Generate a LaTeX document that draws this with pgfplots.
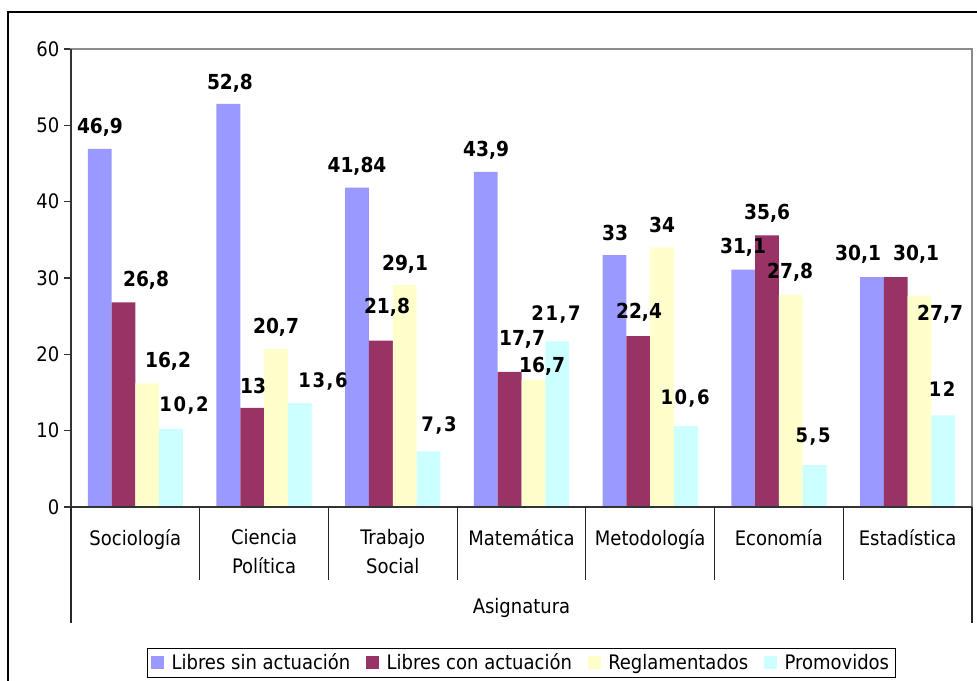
\documentclass[border=0pt]{standalone}
\usepackage{fontspec}
\setmainfont{DejaVu Sans Condensed}
\newfontfamily\spacedfont[LetterSpace=8]{DejaVu Sans Condensed}
\usepackage{pgfplots}
\pgfplotsset{compat=1.18}
\usepackage{pgfplotstable}
\definecolor{cA}{HTML}{9999FF}
\definecolor{cB}{HTML}{993366}
\definecolor{cC}{HTML}{FFFFCC}
\definecolor{cD}{HTML}{CCFFFF}
\newcommand\fs{\fontsize{15}{21.75}\selectfont}

\pgfplotstableread{
idx A B C D
0 46.9 26.8 16.2 10.2
1 52.8 13 20.7 13.6
2 41.84 21.8 29.1 7.3
3 43.9 17.7 16.7 21.7
4 33 22.4 34 10.6
5 31.1 35.6 27.8 5.5
6 30.1 30.1 27.7 12
}\bars

\pgfplotstableread{
x y lab
-0.275 49.78 46,9
0.735 55.55 52,8
1.722 44.67 41,84
2.725 46.77 43,9
3.727 35.90 33
4.721 34.06 31,1
5.615 33.15 30,1
}\labA
\pgfplotstableread{
x y lab
0.083 29.74 26,8
0.914 15.85 13
1.955 26.20 21,8
3.004 22.01 17,7
3.913 25.55 22,4
4.908 38.52 35,6
6.066 33.15 30,1
}\labB
\pgfplotstableread{
x y lab
0.254 19.13 16,2
1.093 23.58 20,7
2.095 31.84 29,1
3.160 18.47 16,7
4.092 36.94 34
5.087 30.79 27,8
6.252 25.28 27,7
}\labC
\pgfplotstableread{
x y lab
0.378 13.36 10,2
1.458 16.38 13,6
2.359 10.74 7,3
3.268 25.28 21,7
4.271 14.15 10,6
5.265 9.17 5,5
6.268 15.46 12
}\labD

\pgfplotsset{
  mybar/.style={ybar, bar width=17.85pt, draw=none,
    legend image code/.code={\fill[##1,draw=none] (0pt,-4.9pt) rectangle (9.75pt,4.9pt);}},
  mylab/.style={draw=none, mark=none, forget plot, nodes near coords,
    point meta=explicit symbolic, nodes near coords align=center,
    every node near coord/.append style={font=\fontsize{15.5}{18}\selectfont\bfseries, anchor=center, inner sep=0pt}},
}

\begin{document}
\begin{tikzpicture}
\path[use as bounding box] (-53.25pt,-130.5pt) rectangle (679.5pt,380.25pt);
\draw[line width=1.1pt] (-47.25pt,-140pt) -- (-47.25pt,371.25pt) -- (690pt,371.25pt);
\begin{axis}[
  scale only axis, width=675.75pt, height=343.5pt,
  xmin=-0.5, xmax=6.5, ymin=0, ymax=60,
  clip=false,
  axis line style={draw=black!45, line width=1.4pt},
  tick pos=left, tick align=outside,
  major tick length=5.25pt,
  ytick={0,10,...,60},
  ytick style={draw=black!80, line width=0.9pt},
  yticklabel style={font=\fs, /pgf/number format/assume math mode=true},
  xtick={0,...,6},
  xtick style={draw=none},
  xticklabels={Sociología, {Ciencia\\Política}, {Trabajo\\Social}, Matemática, Metodología, Economía, Estadística},
  xticklabel style={align=center, font=\fs, yshift=-8pt},
  xlabel={Asignatura},
  xlabel style={at={(axis description cs:0.5,0)}, anchor=center, yshift=-76pt, font=\fs},
  legend columns=4,
  legend style={at={(0.5,0)}, anchor=north, yshift=-105.75pt, draw=black, line width=0.75pt,
    font=\fs,
    /tikz/every odd column/.append style={column sep=3.5pt},
    /tikz/every even column/.append style={column sep=10pt}},
  after end axis/.code={
    \draw[black!80, line width=0.9pt] (axis cs:-0.5,0) -- (axis cs:6.5,0);
    \draw[black!80, line width=0.9pt] (axis cs:-0.5,0) -- (axis cs:-0.5,60);
    \foreach \i in {0.5,1.5,2.5,3.5,4.5,5.5} {\draw[black!85, line width=0.9pt] (axis cs:\i,0) -- ++(0,-54.75pt);}
    \draw[black!85, line width=0.9pt] (axis cs:-0.5,0) -- ++(0,-87pt);
    \draw[black!85, line width=0.9pt] (axis cs:6.5,0) -- ++(0,-87pt);
  },
]
\addplot[mybar, bar shift=-26.775pt, fill=cA] table[x=idx,y=A] \bars;
\addplot[mybar, bar shift=-8.925pt, fill=cB] table[x=idx,y=B] \bars;
\addplot[mybar, bar shift=8.925pt, fill=cC] table[x=idx,y=C] \bars;
\addplot[mybar, bar shift=26.775pt, fill=cD] table[x=idx,y=D] \bars;
\legend{Libres sin actuación, Libres con actuación, Reglamentados, Promovidos}
\addplot[mylab] table[x=x,y=y,meta=lab] \labA;
\addplot[mylab] table[x=x,y=y,meta=lab] \labB;
\addplot[mylab] table[x=x,y=y,meta=lab] \labC;
\addplot[mylab, every node near coord/.append style={font=\fontsize{15}{18}\selectfont\spacedfont\bfseries}] table[x=x,y=y,meta=lab] \labD;
\end{axis}
\end{tikzpicture}
\end{document}
